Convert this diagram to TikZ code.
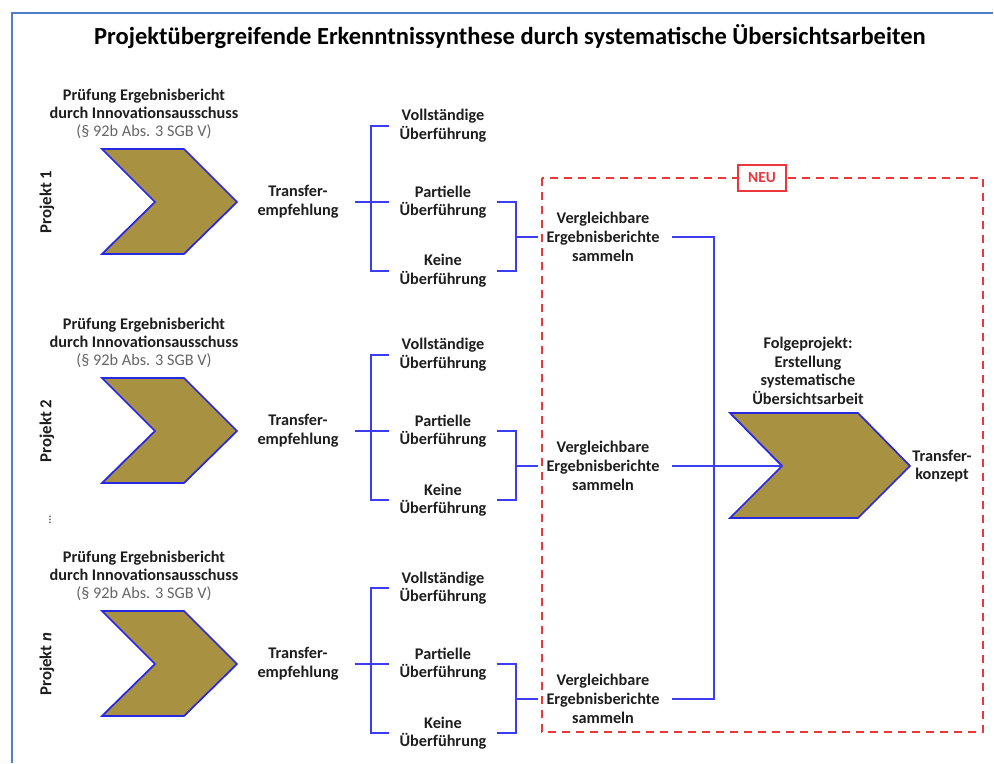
\documentclass[tikz,border=0pt]{standalone}
\usepackage{fontspec}
\setmainfont{Carlito}
\usetikzlibrary{calc}
\definecolor{chevfill}{RGB}{168,145,64}
\definecolor{chevline}{RGB}{40,40,225}
\definecolor{connblue}{RGB}{60,60,240}
\definecolor{frameblue}{RGB}{80,125,205}
\definecolor{neured}{RGB}{235,55,60}
\definecolor{txt}{RGB}{30,30,30}
\tikzset{
  lbl/.style={font=\bfseries\fontsize{12.2}{14}\selectfont, text=txt, align=center, inner sep=0pt},
  headlbl/.style={font=\bfseries\fontsize{12.2}{13.2}\selectfont, text=txt, align=center, inner sep=0pt},
  projlbl/.style={font=\bfseries\fontsize{12.6}{13}\selectfont, text=txt, rotate=90, inner sep=0pt},
  chev/.style={fill=chevfill, draw=chevline, line width=1.3pt, line join=miter},
  conn/.style={draw=connblue, line width=1.3pt},
  frameline/.style={draw=frameblue, line width=1.5pt},
  neubox/.style={draw=neured, dashed, dash pattern=on 6pt off 4.5pt, line width=1.5pt},
  neutag/.style={draw=neured, fill=white, line width=1.3pt, text=neured, font=\bfseries\fontsize{11.5}{12}\selectfont, minimum width=36pt, minimum height=20pt, inner sep=0pt}
}
\begin{document}
\begin{tikzpicture}[x=0.75pt,y=-0.75pt]
\useasboundingbox (0,0) rectangle (994,763);
\fill[white] (0,0) rectangle (994,763);
% frame
\coordinate (fTL) at (12,13);
\coordinate (fTR) at (993,13);
\coordinate (fBL) at (12,763);
\draw[frameline] (fTR) -- (fTL) -- (fBL);
% title
\node[font=\bfseries\fontsize{18.4}{20}\selectfont, text=black, inner sep=0pt] (title) at (510,37)
  {Projektübergreifende Erkenntnissynthese durch systematische Übersichtsarbeiten};

% red dashed area
\draw[neubox] (542,178) rectangle (983,732);
\node[neutag] (neu) at (762,178) {NEU};

% rows
\foreach \r/\Y/\P in {1/202/{Projekt 1}, 2/431/{Projekt 2}, 3/664/{Projekt \textit{n}}}{
  \fill[chev] (102,\Y-53) -- (184,\Y-53) -- (237,\Y) -- (184,\Y+52) -- (102,\Y+52) -- (155,\Y) -- cycle;
  \node[headlbl] (pr-\r) at (144,\Y-88) {Prüfung Ergebnisbericht\\durch Innovationsausschuss\\{\mdseries\color{black!60}(§ 92b Abs. 3 SGB V)}};
  \node[projlbl] (pj-\r) at (47,\Y) {\P};
  \node[lbl] (tr-\r) at (298,\Y) {Transfer-\\empfehlung};
  \node[lbl] (vo-\r) at (443,\Y-76) {Vollständige\\Überführung};
  \node[lbl] (pa-\r) at (443,\Y) {Partielle\\Überführung};
  \node[lbl] (ke-\r) at (443,\Y+69) {Keine\\Überführung};
  \node[lbl] (ve-\r) at (603,\Y+35) {Vergleichbare\\Ergebnisberichte\\sammeln};
  % first bracket
  \draw[conn] ($(vo-\r.west)+(-10,0)$) -- (vo-\r.west -| 371,0) -- (ke-\r.west -| 371,0) -- ($(ke-\r.west)+(-10,0)$);
  \draw[conn] ($(tr-\r.east)+(16,0)$) -- ($(pa-\r.west)+(-10,0)$);
  % second bracket
  \draw[conn] ($(pa-\r.east)+(10,0)$) -- (pa-\r.east -| 516,0) -- (ke-\r.east -| 516,0) -- ($(ke-\r.east)+(10,0)$);
  \draw[conn] (ve-\r.west -| 516,0) -- ($(ve-\r.west)+(-8,0)$);
}

% ellipsis between rows 2 and 3
\node[font=\bfseries\fontsize{9}{9}\selectfont, text=black!60, rotate=90, inner sep=0pt] (dots) at (50,520) {...};

% follow-up project
\fill[chev] (730,413) -- (858,413) -- (910,466) -- (858,518) -- (730,518) -- (782,466) -- cycle;
\coordinate (notch) at (782,466);
\node[lbl] (fp) at (808,371) {Folgeprojekt:\\Erstellung\\systematische\\Übersichtsarbeit};
\node[lbl] (tk) at (942,466) {Transfer-\\konzept};

% collector bus
\coordinate (bus) at (714,0);
\draw[conn] ($(ve-1.east)+(12,0)$) -- (ve-1.east -| bus) -- (ve-3.east -| bus) -- ($(ve-3.east)+(12,0)$);
\draw[conn] ($(ve-2.east)+(12,0)$) -- (ve-2.east -| notch);
\end{tikzpicture}
\end{document}
